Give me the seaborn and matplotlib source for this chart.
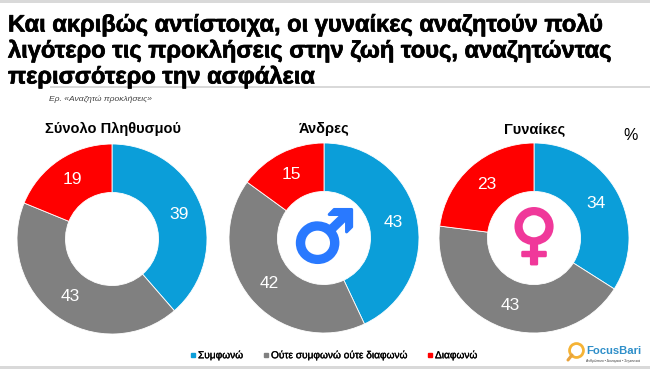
import matplotlib
matplotlib.use("Agg")
import matplotlib.pyplot as plt
from matplotlib.lines import Line2D
from matplotlib.patches import Rectangle
import matplotlib.patheffects as pe
import seaborn as sns

group_names = ["Σύνολο Πληθυσμού", "Άνδρες", "Γυναίκες"]
response_names = ["Συμφωνώ", "Ούτε συμφωνώ ούτε διαφωνώ", "Διαφωνώ"]
total_values = [39, 43, 19]
men_values = [43, 42, 15]
women_values = [34, 43, 23]
title_lines = [
    "Και ακριβώς αντίστοιχα, οι γυναίκες αναζητούν πολύ",
    "λιγότερο τις προκλήσεις στην ζωή τους, αναζητώντας",
    "περισσότερο την ασφάλεια",
]
question = "Ερ. «Αναζητώ προκλήσεις»"
unit = "%"
logo_name = "FocusBari"
logo_tagline = "Ανθρώπινα • Δυναμικά • Σημαντικά"

sns.set_theme(style="white")
plt.rcParams["font.family"] = ["Liberation Sans", "DejaVu Sans"]
palette = sns.color_palette(["#0B9ED9", "#808080", "#FF0000"])

W, H = 650, 369
fig = plt.figure(figsize=(6.5, 3.69), dpi=100, facecolor="white")


def px(x, y):
    return x / W, 1 - y / H


# frame lines
for rect in [(0, 0, 650, 3), (0, 366, 650, 3), (50, 86, 600, 2)]:
    fig.add_artist(Rectangle((rect[0] / W, 1 - (rect[1] + rect[3]) / H), rect[2] / W, rect[3] / H,
                             transform=fig.transFigure, color="#D9D9D9", lw=0))

# title
for line, y in zip(title_lines, [25, 51, 77]):
    fig.text(*px(8, y), line, fontsize=17.05, fontweight="bold", color="black", va="center", ha="left",
             path_effects=[pe.withStroke(linewidth=0.5, foreground="black")])
fig.text(*px(49, 99), question, fontsize=6.1, style="italic", color="#404040", va="center")

# donuts
centers = [(112, 239), (324, 238), (534, 238)]
radius = 95
values_by_group = [total_values, men_values, women_values]
for name, vals, (cx, cy), tx in zip(group_names, values_by_group, centers, [113, 324, 535]):
    ax = fig.add_axes([(cx - radius) / W, 1 - (cy + radius) / H, 2 * radius / W, 2 * radius / H])
    wedges, texts = ax.pie(vals, colors=palette, startangle=90, counterclock=False, radius=1,
                           labels=[str(v) for v in vals], labeldistance=0.75,
                           wedgeprops=dict(width=0.51, edgecolor="white", linewidth=0.6),
                           textprops=dict(color="white", fontsize=12.5))
    for t in texts:
        t.set_ha("center")
        t.set_va("center")
    ax.set_xlim(-1, 1)
    ax.set_ylim(-1, 1)
    fig.text(*px(tx, 129), name, fontsize=10.5, fontweight="bold", color="black", ha="center", va="center")

fig.text(*px(631, 135), unit, fontsize=11.5, color="black", ha="center", va="center")

# gender symbols
fig.text(*px(324, 242), "♂", family="DejaVu Sans", fontsize=52, fontweight="bold", color="#2979FF",
         ha="center", va="center", path_effects=[pe.withStroke(linewidth=2.2, foreground="#2979FF")])
fig.text(*px(534, 238), "♀", family="DejaVu Sans", fontsize=47, fontweight="bold", color="#F0389A",
         ha="center", va="center", path_effects=[pe.withStroke(linewidth=1.8, foreground="#F0389A")])

# legend
for name, col, sx in zip(response_names, palette, [193, 266, 430]):
    fig.add_artist(Line2D([sx / W], [1 - 355 / H], marker="s", ms=3, color=col, lw=0,
                          transform=fig.transFigure))
    fig.text(*px(sx + 5, 355), name, fontsize=7.3, color="black", ha="left", va="center",
             path_effects=[pe.withStroke(linewidth=0.2, foreground="black")])

# logo
fig.text(*px(586, 351.5), logo_name, fontsize=8.1, fontweight="bold", color="#2F8FC9", ha="left", va="center")
fig.text(*px(586, 361), logo_tagline, fontsize=2.5, color="#404040", ha="left", va="center")
fig.add_artist(Line2D([575.5 / W], [1 - 349.5 / H], marker="o", ms=10, mfc="none", mec="#F5B335", mew=2, lw=0,
                      transform=fig.transFigure))
fig.add_artist(Line2D([572 / W, 568 / W], [1 - 355 / H, 1 - 360 / H], color="#E8A33D", lw=2.2,
                      transform=fig.transFigure))

fig.savefig("out.png", dpi=100)
